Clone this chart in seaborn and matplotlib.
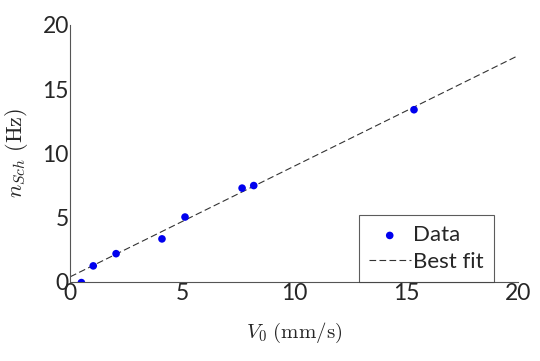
import numpy as np
import pandas as pd
import matplotlib
matplotlib.use('Agg')
import matplotlib.pyplot as plt
import seaborn as sns

# measured points
v0 = [0.5, 1.03, 2.05, 4.1, 5.13, 7.68, 8.2, 15.36]
n_sch = [-0.05, 1.25, 2.2, 3.35, 5.05, 7.3, 7.5, 13.4]

# best-fit line as drawn in the figure (slope, intercept)
fit_slope = 0.86
fit_icpt = 0.4

sns.set_style('white')
plt.rcParams['font.family'] = ['Lato', 'DejaVu Sans']
plt.rcParams['mathtext.fontset'] = 'cm'

df = pd.DataFrame({'V0': v0, 'n': n_sch})
xfit = np.array([0, 20])

fig = plt.figure(figsize=(5.4, 3.61), dpi=100)
ax = fig.add_axes([0.13, 0.219, 0.829, 0.712])

sns.scatterplot(data=df, x='V0', y='n', color='#0000ee', s=30, edgecolor='none',
                ax=ax, label='Data', zorder=3)
ax.plot(xfit, fit_slope * xfit + fit_icpt, ls=(0, (6, 3)), color='#333333', lw=0.8,
        label='Best fit')

ax.set_xlim(0, 20)
ax.set_ylim(0, 20)
ax.set_xticks([0, 5, 10, 15, 20])
ax.set_yticks([0, 5, 10, 15, 20])
ax.tick_params(direction='in', labelsize=16.5, length=4, color='#555555', pad=1)
for s in ['top', 'right']:
    ax.spines[s].set_visible(False)
for s in ['left', 'bottom']:
    ax.spines[s].set_color('#555555')
    ax.spines[s].set_linewidth(0.8)
ax.patch.set_alpha(0)

ax.set_xlabel(r'$V_0\ \mathrm{(mm/s)}$', fontsize=15, labelpad=12)
ax.set_ylabel(r'$n_{Sch}\ \mathrm{(Hz)}$', fontsize=16, labelpad=9)

leg = ax.legend(loc='lower right', bbox_to_anchor=(0.946, 0.0), fontsize=16, frameon=True,
                fancybox=False, borderpad=0.45, handlelength=1.9, handletextpad=0.1,
                labelspacing=0.3, borderaxespad=0)
leg.get_frame().set_edgecolor('#333333')
leg.get_frame().set_linewidth(0.8)

fig.savefig('out.png', dpi=100)
